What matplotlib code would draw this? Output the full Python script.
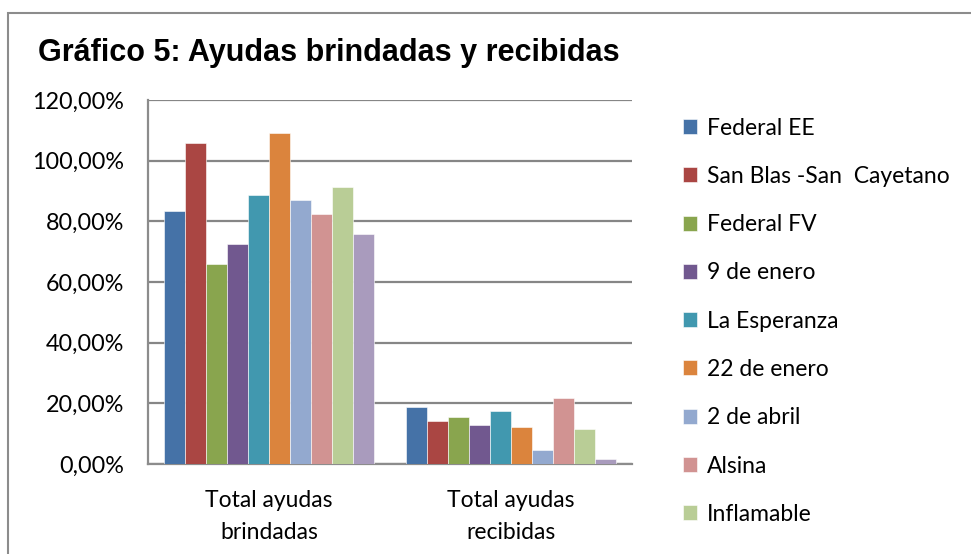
import numpy as np
import matplotlib.pyplot as plt
from matplotlib.patches import Rectangle
from matplotlib.ticker import FuncFormatter

# Categories and series (values in %)
categorias = ["Total ayudas\nbrindadas", "Total ayudas\nrecibidas"]
barrios = ["Federal EE", "San Blas -San  Cayetano", "Federal FV", "9 de enero",
           "La Esperanza", "22 de enero", "2 de abril", "Alsina", "Inflamable", "Serie 10"]
brindadas = [83.5, 105.9, 65.9, 72.4, 88.8, 109.1, 86.9, 82.3, 91.4, 75.7]
recibidas = [18.9, 14.2, 15.5, 12.9, 17.5, 12.1, 4.7, 21.6, 11.5, 1.5]
colores = ["#4572a7", "#aa4643", "#89a54e", "#71588f", "#4198af",
           "#db843d", "#93a9cf", "#d19392", "#b9cd96", "#a99bbd"]

fig = plt.figure(figsize=(9.71, 5.54), dpi=100)

# outer chart frame (clipped at right and bottom like the reference)
fig.patches.append(Rectangle((8 / 971, -0.05), 1.2, 1 - 13 / 554 + 0.05,
                             transform=fig.transFigure, fill=False,
                             edgecolor="#8c8c8c", linewidth=1.5))

ax = fig.add_axes([148 / 971, 1 - 464 / 554, (632 - 148) / 971, (464 - 100) / 554])

x = np.arange(len(categorias))
n = len(barrios)
ancho = 0.087
for i in range(n):
    offs = (i - (n - 1) / 2) * ancho
    ax.bar(x + offs, [brindadas[i], recibidas[i]], width=ancho,
           color=colores[i], edgecolor="white", linewidth=0.4,
           label=barrios[i], zorder=3)

ax.set_xlim(-0.5, 1.5)
ax.set_ylim(0, 120)
ax.set_yticks(np.arange(0, 121, 20))
ax.yaxis.set_major_formatter(FuncFormatter(lambda v, p: f"{v:.2f}%".replace(".", ",")))
ax.set_xticks(x)
ax.set_xticklabels(categorias, family="Lato", fontsize=16.5, linespacing=1.65)
for t in ax.get_yticklabels():
    t.set_family("Lato")
    t.set_fontsize(16.8)
ax.tick_params(length=0)
ax.tick_params(axis="y", pad=17)
ax.tick_params(axis="x", pad=19)
ax.grid(axis="y", color="#868686", linewidth=1.6, zorder=0)
for s in ["top", "right"]:
    ax.spines[s].set_visible(False)
for s in ["left", "bottom"]:
    ax.spines[s].set_color("#8c8c8c")
    ax.spines[s].set_linewidth(1.6)

fig.text(38 / 971, 1 - 53 / 554, "Gráfico 5: Ayudas brindadas y recibidas",
         family="Liberation Sans", fontweight="bold", fontsize=22, va="center")

# legend shows only the first nine entries (the last one is cut off)
handles, labels = ax.get_legend_handles_labels()
leg = fig.legend(handles[:9], labels[:9], loc="upper left",
                 bbox_to_anchor=(662 / 971, 1 - 97 / 554), frameon=False,
                 prop={"family": "Lato", "size": 16.5}, handlelength=0.62,
                 handleheight=0.62, handletextpad=0.45, labelspacing=1.19)

fig.savefig("out.png", dpi=100)
